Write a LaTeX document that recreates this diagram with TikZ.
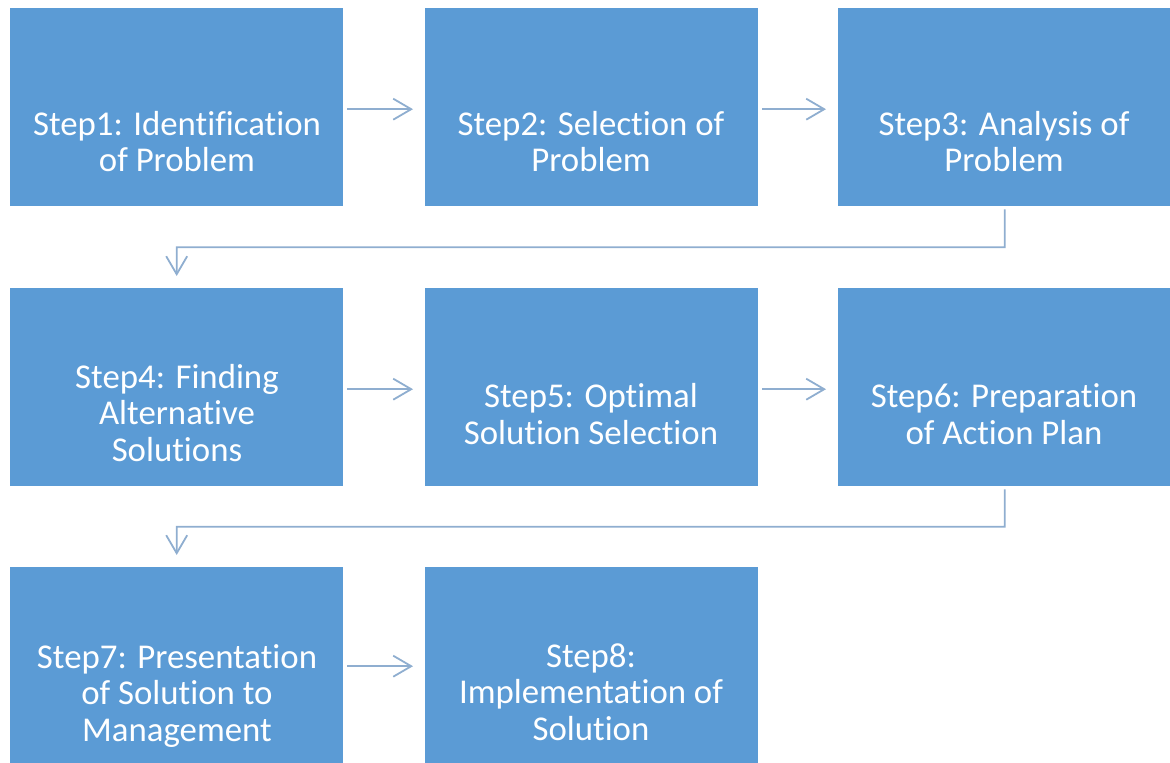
\documentclass[tikz,border=0pt]{standalone}
\usepackage{fontspec}
\setmainfont{Carlito}[Ligatures=NoCommon]
\usetikzlibrary{arrows.meta,calc}
\definecolor{boxblue}{HTML}{5B9BD5}
\definecolor{connblue}{HTML}{8FAED0}
\tikzset{
  stepbox/.style={fill=boxblue, draw=none, minimum width=333pt, minimum height=198pt, inner sep=0pt, anchor=north west},
  steptext/.style={text=white, align=center, anchor=base, inner sep=0pt, font=\fontsize{34.8}{36.5}\selectfont},
  conn/.style={draw=connblue, line width=1.8pt, -{Straight Barb[length=18pt,width=21pt]}},
}
\begin{document}
\begin{tikzpicture}[x=1pt,y=-1pt]
\useasboundingbox (0,0) rectangle (1170,763);
% boxes
\node[stepbox] (b1) at (10,8) {};
\node[stepbox] (b2) at (425,8) {};
\node[stepbox] (b3) at (838,8) {};
\node[stepbox] (b4) at (10,288) {};
\node[stepbox] (b5) at (425,288) {};
\node[stepbox] (b6) at (838,288) {};
\node[stepbox] (b7) at (10,567) {};
\node[stepbox] (b8) at (425,567) {};
% texts (anchor = baseline of the last line)
\node[steptext] (t1) at (177,171.5) {Step1: Identification\\of Problem};
\node[steptext] (t2) at (591,171.5) {Step2: Selection of\\Problem};
\node[steptext] (t3) at (1004,171.5) {Step3: Analysis of\\Problem};
\node[steptext] (t4) at (177,461) {Step4: Finding\\Alternative\\Solutions};
\node[steptext] (t5) at (591,444) {Step5: Optimal\\Solution Selection};
\node[steptext] (t6) at (1004,444) {Step6: Preparation\\of Action Plan};
\node[steptext] (t7) at (177,741) {Step7: Presentation\\of Solution to\\Management};
\node[steptext] (t8) at (591,740) {Step8:\\Implementation of\\Solution};
% horizontal connectors
\draw[conn, shorten <=4pt, shorten >=12pt] ([yshift=-2pt]b1.east) -- ([yshift=-2pt]b2.west);
\draw[conn, shorten <=4pt, shorten >=12pt] ([yshift=-2pt]b2.east) -- ([yshift=-2pt]b3.west);
\draw[conn, shorten <=4pt, shorten >=12pt] ([yshift=-2pt]b4.east) -- ([yshift=-2pt]b5.west);
\draw[conn, shorten <=4pt, shorten >=12pt] ([yshift=-2pt]b5.east) -- ([yshift=-2pt]b6.west);
\draw[conn, shorten <=4pt, shorten >=12pt] (b7) -- (b8);
% elbow connectors
\draw[conn, shorten <=3pt, shorten >=12pt] (b3.south) -- ($(b3.south)!0.5!(b3.south|-b4.north)$) -| (b4.north);
\draw[conn, shorten <=3pt, shorten >=12pt] (b6.south) -- ($(b6.south)!0.5!(b6.south|-b7.north)$) -| (b7.north);
\end{tikzpicture}
\end{document}
